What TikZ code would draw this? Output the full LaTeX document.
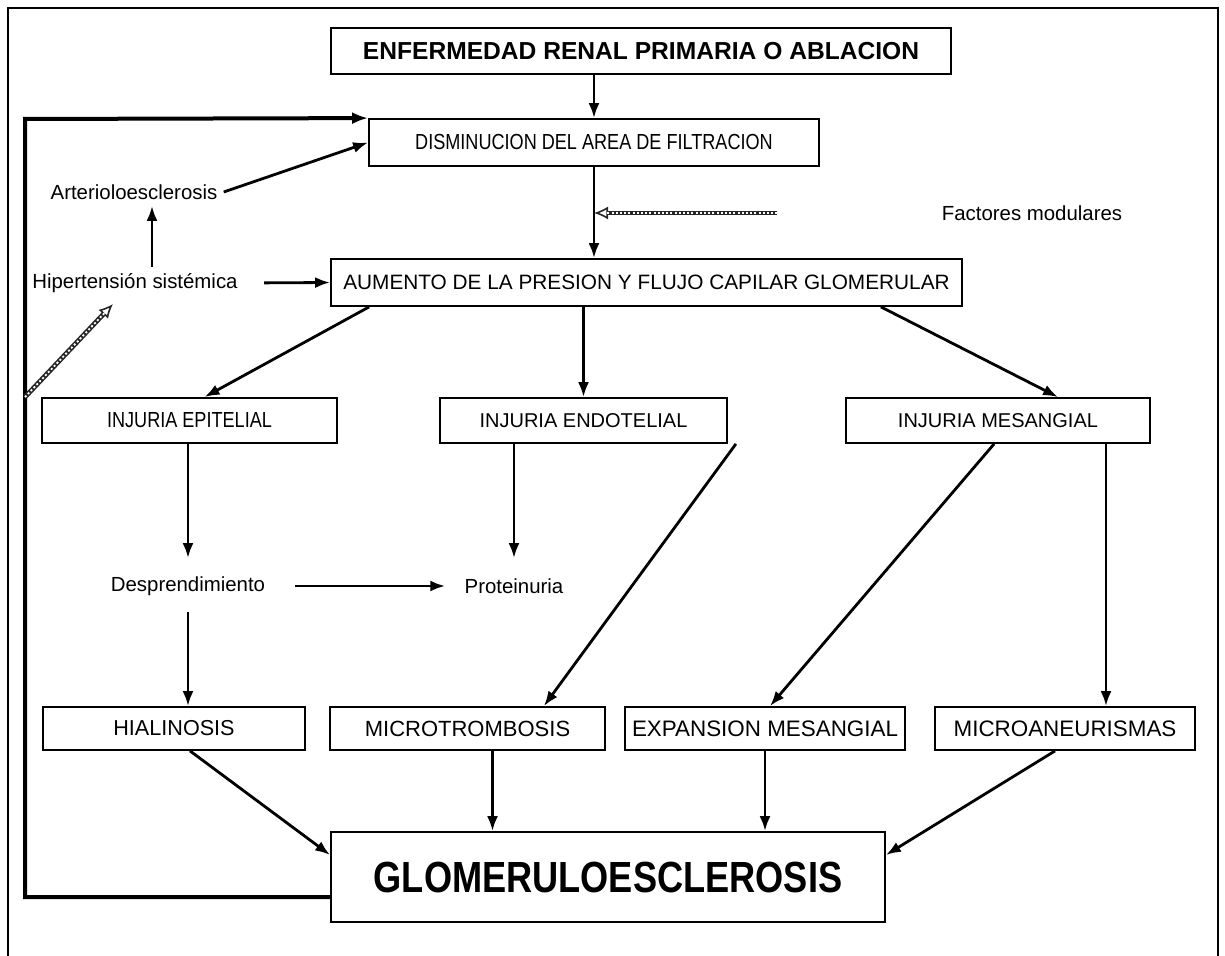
\documentclass[tikz,border=0pt]{standalone}
\usepackage{fontspec}
\setmainfont{Liberation Sans}
\newfontfamily\narrowfont{Liberation Sans}[FakeStretch=0.83]
\usetikzlibrary{arrows.meta,calc}
\begin{document}
\begin{tikzpicture}[x = 0.5pt, y = -0.5pt,
  box/.style = {draw, line width = 0.9pt, inner sep = 0pt, font = \fontsize{10}{12}\selectfont},
  lbl/.style = {inner sep = 3pt, font = \fontsize{10.2}{12}\selectfont},
  arr/.style = {line width = 1.4pt, -{Latex[length = 7.5pt, width = 5.5pt]}},
  hatched/.style = {line width = 2.4pt, draw = black!85,
    -{Latex[open, length = 7pt, width = 6.5pt, line width = 0.8pt]},
    postaction = {draw = white, -, line width = 0.9pt, dash pattern = on 1pt off 1.1pt, shorten > = 6pt}},
  feedback/.style = {line width = 2pt, -{Latex[length = 8pt, width = 6pt]}}]
\useasboundingbox (0,0) rectangle (1225,956);
\draw[line width = 1pt] (8,956) -- (8,8) -- (1218,8) -- (1218,956);
% boxes
\node[box, minimum width = 310pt, minimum height = 23pt, font = \bfseries\fontsize{12.3}{14}\selectfont] (enf) at (641,51) {ENFERMEDAD RENAL PRIMARIA O ABLACION};
\node[box, minimum width = 225pt, minimum height = 23.5pt, font = \narrowfont\fontsize{10.9}{12}\selectfont] (dis) at (594,142.5) {DISMINUCION DEL AREA DE FILTRACION};
\node[box, minimum width = 315.5pt, minimum height = 23.5pt, font = \fontsize{10.4}{12}\selectfont] (aum) at (646.5,282.5) {AUMENTO DE LA PRESION Y FLUJO CAPILAR GLOMERULAR};
\node[box, minimum width = 147.5pt, minimum height = 22.5pt, font = \narrowfont\fontsize{10.9}{12}\selectfont] (epi) at (189.5,420.5) {INJURIA EPITELIAL};
\node[box, minimum width = 143.5pt, minimum height = 22.5pt] (endo) at (583.5,420.5) {INJURIA ENDOTELIAL};
\node[box, minimum width = 152pt, minimum height = 22.5pt] (mes) at (998,420.5) {INJURIA MESANGIAL};
\node[box, minimum width = 131pt, minimum height = 21.5pt, font = \fontsize{10.8}{12}\selectfont] (hial) at (174,728.5) {HIALINOSIS};
\node[box, minimum width = 137.5pt, minimum height = 21.5pt, font = \fontsize{11}{12}\selectfont] (mtr) at (467.5,728.5) {MICROTROMBOSIS};
\node[box, minimum width = 140pt, minimum height = 21.5pt, font = \fontsize{11.2}{12}\selectfont] (exp) at (765,728.5) {EXPANSION MESANGIAL};
\node[box, minimum width = 130pt, minimum height = 21.5pt, font = \fontsize{11.2}{12}\selectfont] (man) at (1065,728.5) {MICROANEURISMAS};
\node[box, minimum width = 277pt, minimum height = 45pt, font = \narrowfont\bfseries\fontsize{21.8}{26}\selectfont] (glo) at (608,877) {GLOMERULOESCLEROSIS};
% free labels
\node[lbl] (art) at (134,192) {Arterioloesclerosis};
\node[lbl] (hip) at (135,283) {Hipertensión sistémica};
\node[lbl] (fac) at (1032,213) {Factores modulares};
\node[lbl] (desp) at (188,586) {Desprendimiento};
\node[lbl] (prot) at (514,586) {Proteinuria};
\coordinate (lp) at (25,119);
% main chain
\draw[arr] (enf.south -| dis.north) -- (dis.north);
\draw[arr] (dis.south) -- (dis.south |- aum.north);
\draw[hatched] ($(fac.west)+(-158,0)$) -- (dis.south |- fac.west);
\draw[arr] ($(aum.south west)+(39,0)$) -- ($(epi.north)+(15,0)$);
\draw[arr] (endo.north |- aum.south) -- (endo.north);
\draw[arr] ($(aum.south east)+(-82,0)$) -- ($(mes.north)+(60,0)$);
% middle
\draw[arr] (epi.south -| desp.north) -- ($(desp.north)+(0,-12)$);
\draw[arr] ($(desp.south)+(0,10)$) coordinate (d1) -- (d1 |- hial.north);
\draw[arr, shorten < = 11.5pt, shorten > = 6.5pt] (desp.east) -- (prot.west);
\draw[arr] (endo.south -| prot.north) -- ($(prot.north)+(0,-14)$);
\draw[arr] ($(endo.south east)+(8,0)$) -- ($(mtr.north east)+(-62,0)$);
\draw[arr] ($(mes.south west)+(149,0)$) -- ($(exp.north)+(5,0)$);
\draw[arr] ($(mes.south)+(108,0)$) coordinate (m2) -- (m2 |- man.north);
% towards glomeruloesclerosis
\draw[arr] ($(hial.south)+(16,0)$) -- ($(glo.west)+(0,-22)$);
\draw[arr] ($(mtr.south)+(25,0)$) coordinate (m1) -- (m1 |- glo.north);
\draw[arr] (exp.south) -- (exp.south |- glo.north);
\draw[arr] ($(man.south)+(-10,0)$) -- ($(glo.east)+(0,-22)$);
% feedback and hypertension
\draw[feedback] ($(glo.west)+(0,20)$) -| (lp) -- (dis.north west);
\draw[arr] (art.east) -- (dis.west);
\draw[arr] ($(hip.north)+(17,0)$) coordinate (h1) -- (h1 |- art.south);
\draw[arr, shorten < = 10pt] (hip.east) -- (aum.west);
\draw[hatched] (lp |- epi.north) -- ($(hip.south)+(-22,5)$);
\end{tikzpicture}
\end{document}
